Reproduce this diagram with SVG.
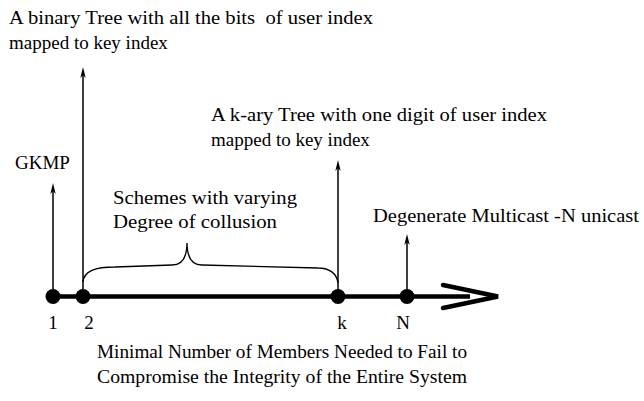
<svg xmlns="http://www.w3.org/2000/svg" width="644" height="401" viewBox="0 0 644 401">
  <style>
    text { font-family: "Liberation Serif", "Times New Roman", serif; font-size: 19px; fill: #000; white-space: pre; }
    .stem { stroke: #000; stroke-width: 1.5; fill: none; marker-end: url(#tip); }
    .axis { stroke: #000; stroke-width: 4.5; fill: none; }
    .brace { stroke: #000; stroke-width: 1.4; fill: none; }
    .dot { fill: #000; }
  </style>
  <defs>
    <!-- slim filled spike used on every upward pointer; tip sits 4px past the line end -->
    <marker id="tip" markerUnits="userSpaceOnUse" markerWidth="16" markerHeight="8" viewBox="-12 -4 16 8" refX="-4" refY="0" orient="auto">
      <path d="M0,0 L-11,-2.7 L-8,0 L-11,2.7 Z" fill="#000"/>
    </marker>
  </defs>

  <!-- connectors: the horizontal axis, the upward pointers and the brace -->
  <g id="connectors">
    <line class="axis" x1="47" y1="296.5" x2="470" y2="296.5"/>
    <polyline class="axis" points="443,285 498,296.5 443,308" stroke-linecap="round" stroke-linejoin="miter"/>
    <line class="stem" x1="53" y1="296" x2="53" y2="187"/>
    <line class="stem" x1="83" y1="296" x2="83" y2="71"/>
    <line class="stem" x1="338" y1="296" x2="338" y2="164"/>
    <line class="stem" x1="407" y1="296" x2="407" y2="238"/>
    <path class="brace" d="M83,282 C84,271 95,267 115,267 L172,265 C182,265 187,258 187,243 C187,258 192,265 202,265 L318,268 C330,268 337,274 338,283"/>
  </g>

  <g id="point-1">
    <circle class="dot" cx="53" cy="296.5" r="7.5"/>
    <text x="53" y="329" text-anchor="middle">1</text>
  </g>
  <g id="point-2">
    <circle class="dot" cx="83" cy="296.5" r="7.5"/>
    <text x="89" y="329" text-anchor="middle">2</text>
  </g>
  <g id="point-k">
    <circle class="dot" cx="338" cy="296.5" r="7.5"/>
    <text x="342" y="329" text-anchor="middle">k</text>
  </g>
  <g id="point-n">
    <circle class="dot" cx="407" cy="296.5" r="7.5"/>
    <text x="403" y="329" text-anchor="middle">N</text>
  </g>

  <g id="label-gkmp">
    <text x="15" y="169">GKMP</text>
  </g>
  <g id="label-binary">
    <text x="9" y="24" textLength="364" lengthAdjust="spacingAndGlyphs">A binary Tree with all the bits  of user index</text>
    <text x="9" y="49">mapped to key index</text>
  </g>
  <g id="label-kary">
    <text x="211" y="121" textLength="336" lengthAdjust="spacingAndGlyphs">A k-ary Tree with one digit of user index</text>
    <text x="211" y="146">mapped to key index</text>
  </g>
  <g id="label-degenerate">
    <text x="373" y="222" textLength="266" lengthAdjust="spacingAndGlyphs">Degenerate Multicast -N unicast</text>
  </g>
  <g id="label-schemes">
    <text x="113" y="204" textLength="184" lengthAdjust="spacingAndGlyphs">Schemes with varying</text>
    <text x="113" y="228" textLength="164" lengthAdjust="spacingAndGlyphs">Degree of collusion</text>
  </g>
  <g id="label-axis">
    <text x="97" y="358" textLength="370" lengthAdjust="spacingAndGlyphs">Minimal Number of Members Needed to Fail to</text>
    <text x="97" y="383" textLength="370" lengthAdjust="spacingAndGlyphs">Compromise the Integrity of the Entire System</text>
  </g>
</svg>
